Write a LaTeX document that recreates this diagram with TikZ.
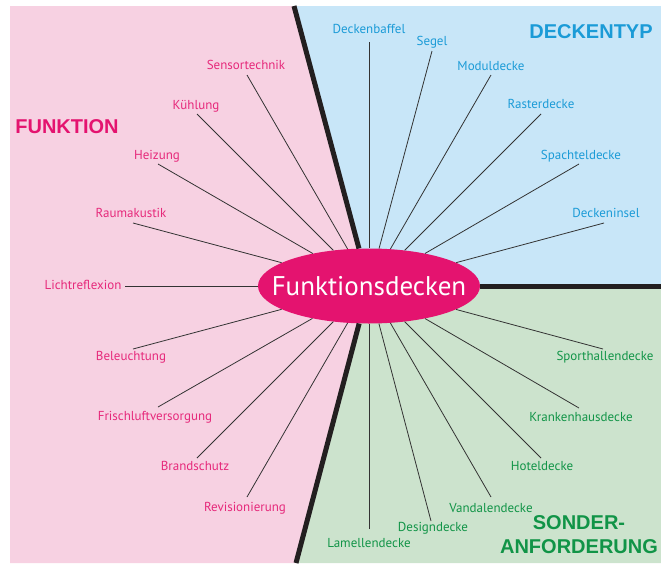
\documentclass[tikz,border=0pt]{standalone}
\usepackage{fontspec}
\setmainfont{PT Sans}
\newfontfamily\titlefont{Liberation Sans}
\usetikzlibrary{shapes.geometric}
\definecolor{pinkbg}{HTML}{F7D1E2}
\definecolor{bluebg}{HTML}{C8E6F8}
\definecolor{greenbg}{HTML}{CCE3CD}
\definecolor{magent}{HTML}{E4136F}
\definecolor{pinktxt}{HTML}{E6297B}
\definecolor{bluetxt}{HTML}{1B9BD7}
\definecolor{greentxt}{HTML}{119447}
\definecolor{divcol}{HTML}{231F20}
\definecolor{spokecol}{HTML}{333333}
\begin{document}
\begin{tikzpicture}[x=1pt,y=-1pt,
  lbl/.style={font=\fontsize{13}{15}\selectfont, inner sep=0pt},
  fnlbl/.style={lbl, text=pinktxt},
  dtlbl/.style={lbl, text=bluetxt},
  salbl/.style={lbl, text=greentxt},
  ttl/.style={font=\titlefont\bfseries\fontsize{20}{24}\selectfont, inner sep=0pt},
  spoke/.style={draw=spokecol, line width=0.8pt},
  divider/.style={draw=divcol, line width=5pt}]
\useasboundingbox (0,0) rectangle (661,563);
\fill[white] (0,0) rectangle (661,563);
\coordinate (C) at (369,286);
\coordinate (T) at (294,6);
\coordinate (B) at (296,563);
\coordinate (R) at (661,286);
% backgrounds
\fill[pinkbg] (10,6) -- (T) -- (C) -- (B) -- (10,563) -- cycle;
\fill[bluebg] (T) -- (661,6) -- (R) -- (C) -- cycle;
\fill[greenbg] (C) -- (R) -- (661,563) -- (B) -- cycle;
% center node
\node[ellipse, fill=magent, minimum width=222pt, minimum height=75pt, inner sep=0pt] (ell) at (C) {};
\node[text=white, inner sep=0pt, font=\fontsize{27}{30}\selectfont] (elltxt) at (C) {Funktionsdecken};
% dividers
\draw[divider] (T) -- (ell);
\draw[divider] (B) -- (ell);
\draw[divider] (R) -- (ell);
% titles
\node[ttl, text=magent] (tf) at (67,127) {FUNKTION};
\node[ttl, text=bluetxt] (td) at (591,32) {DECKENTYP};
\node[ttl, text=greentxt, align=center] (ts) at (579,535) {SONDER-\\ANFORDERUNG};
% Funktion labels
\node[fnlbl] (f1) at (246,65) {Sensortechnik};
\node[fnlbl] (f2) at (196,106) {Kühlung};
\node[fnlbl] (f3) at (157,156) {Heizung};
\node[fnlbl] (f4) at (131,213) {Raumakustik};
\node[fnlbl] (f5) at (83,285) {Lichtreflexion};
\node[fnlbl] (f6) at (131,357) {Beleuchtung};
\node[fnlbl] (f7) at (155,417) {Frischluftversorgung};
\node[fnlbl] (f8) at (195,466) {Brandschutz};
\node[fnlbl] (f9) at (245,508) {Revisionierung};
\coordinate (p1) at (247,75);
\coordinate (p2) at (197,114);
\coordinate (p3) at (158,164);
\coordinate (p4) at (133,223);
\coordinate (p5) at (125,286);
\coordinate (p6) at (133,349);
\coordinate (p7) at (158,407);
\coordinate (p8) at (197,458);
\coordinate (p9) at (247,497);
% Deckentyp labels
\node[dtlbl] (d1) at (369,29) {Deckenbaffel};
\node[dtlbl] (d2) at (432,42) {Segel};
\node[dtlbl] (d3) at (491,66) {Moduldecke};
\node[dtlbl] (d4) at (541,104) {Rasterdecke};
\node[dtlbl] (d5) at (581,156) {Spachteldecke};
\node[dtlbl] (d6) at (606,213) {Deckeninsel};
\coordinate (q1) at (369,42);
\coordinate (q2) at (432,51);
\coordinate (q3) at (491,75);
\coordinate (q4) at (541,114);
\coordinate (q5) at (579,164);
\coordinate (q6) at (604,223);
% Sonderanforderung labels
\node[salbl] (s1) at (605,357) {Sporthallendecke};
\node[salbl] (s2) at (581,417) {Krankenhausdecke};
\node[salbl] (s3) at (542,466) {Hoteldecke};
\node[salbl] (s4) at (491,508) {Vandalendecke};
\node[salbl] (s5) at (433,528) {Designdecke};
\node[salbl] (s6) at (369,543) {Lamellendecke};
\coordinate (r1) at (603,349);
\coordinate (r2) at (579,408);
\coordinate (r3) at (541,458);
\coordinate (r4) at (491,497);
\coordinate (r5) at (431,521);
\coordinate (r6) at (369,529);
% spokes
\foreach \p in {p1,p2,p3,p4,p5,p6,p7,p8,p9,q1,q2,q3,q4,q5,q6,r1,r2,r3,r4,r5,r6}
  \draw[spoke] (\p) -- (ell);
\end{tikzpicture}
\end{document}
